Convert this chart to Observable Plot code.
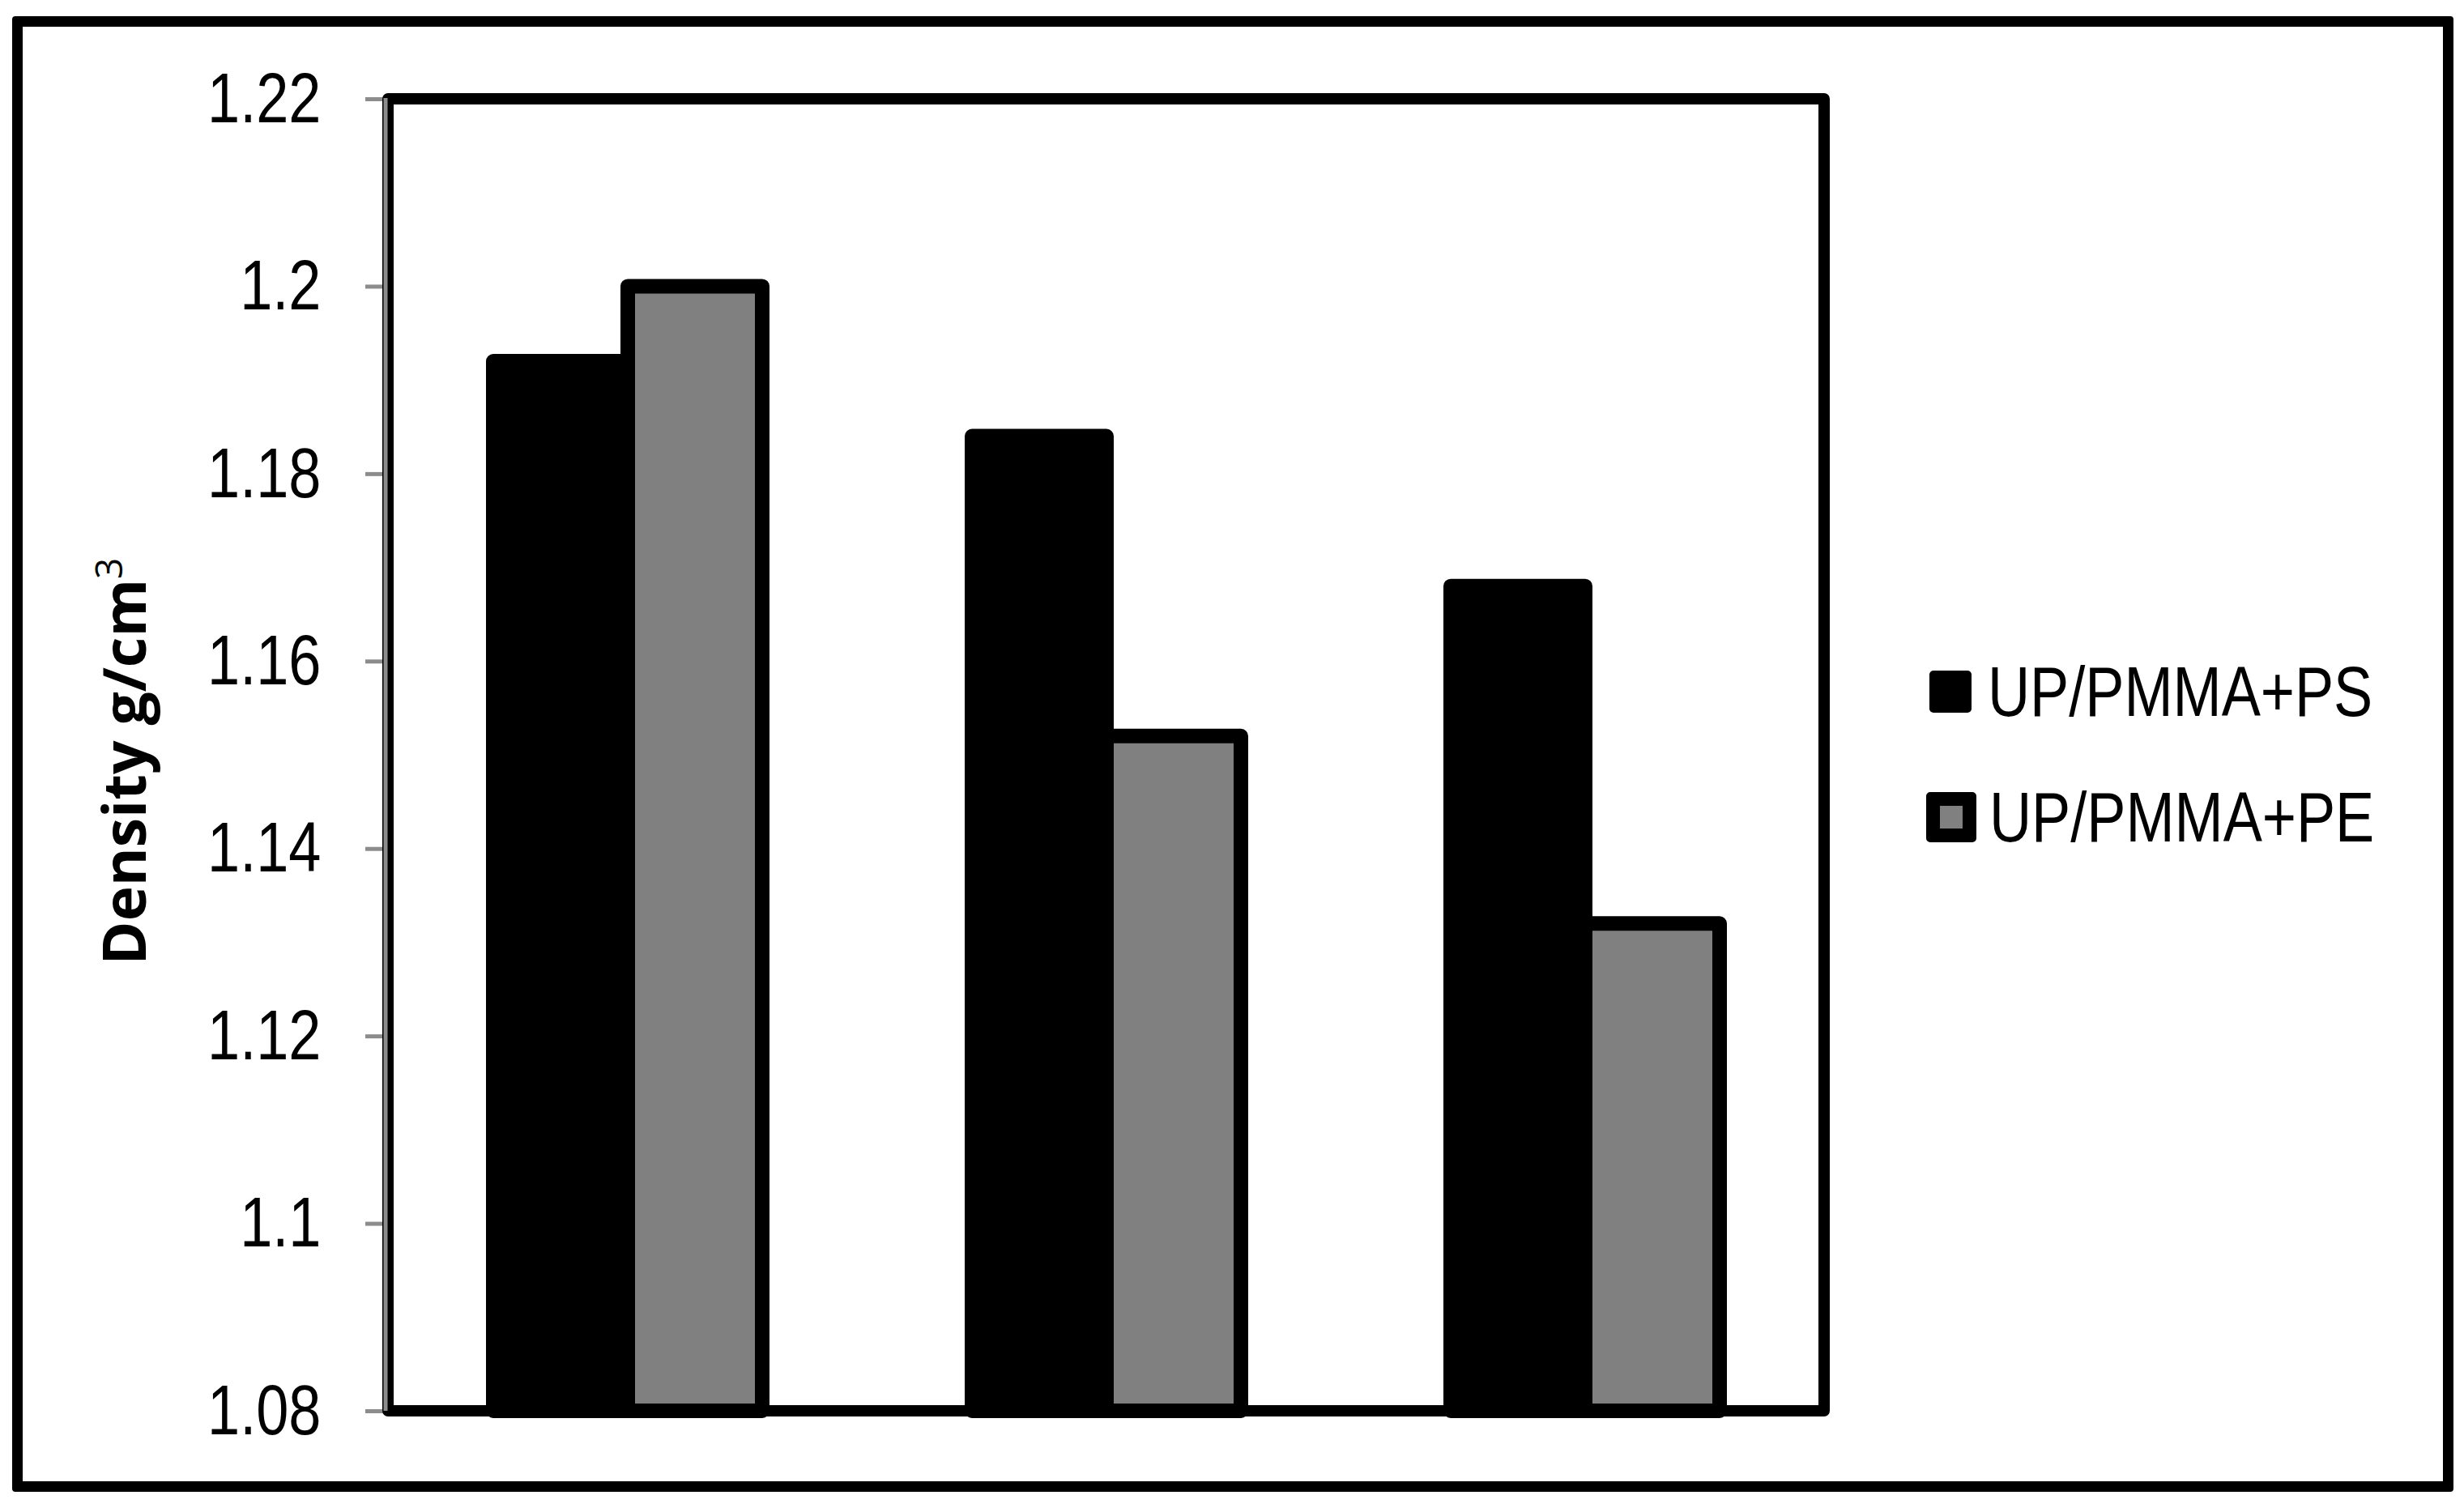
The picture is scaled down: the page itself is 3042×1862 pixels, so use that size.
<!DOCTYPE html>
<html>
<head>
<meta charset="utf-8">
<script src="https://cdn.jsdelivr.net/npm/d3@7"></script>
<script src="https://cdn.jsdelivr.net/npm/@observablehq/plot@0.6"></script>
<style>
  html, body { margin: 0; padding: 0; background: #fff; }
  #wrap { position: relative; width: 3042px; height: 1862px; overflow: hidden; }
  #border { position: absolute; left: 15px; top: 20px; width: 3014px; height: 1822px;
            box-sizing: border-box; border: 13px solid #000; border-radius: 4px; pointer-events: none; }
  #legend { position: absolute; left: 2376px; top: 790px; font-family: "Liberation Sans", Arial, sans-serif; font-size: 88px; color: #000; }
  .row { position: absolute; left: 0; height: 100px; display: flex; align-items: center; white-space: nowrap; }
  .sw { box-sizing: border-box; border-radius: 5px; flex: none; }
  .lt { display: inline-block; transform: scaleX(0.82); transform-origin: left center; }
</style>
</head>
<body>
<div id="wrap">
  <div id="chart"></div>
  <div id="border"></div>
  <div id="legend"></div>
</div>
<script>
// ---- data ----
const groups = ["Group 1", "Group 2", "Group 3"];
const series = ["UP/PMMA+PS", "UP/PMMA+PE"];
const psValues = [1.192, 1.184, 1.168];
const peValues = [1.200, 1.152, 1.132];
const yTicks = [1.08, 1.10, 1.12, 1.14, 1.16, 1.18, 1.20, 1.22];
const yDomain = [1.08, 1.22];
const colors = ["#000000", "#808080"];
const yLabel = "Density g/cm";

const data = groups.flatMap((g, i) => [
  {group: g, series: series[0], value: psValues[i]},
  {group: g, series: series[1], value: peValues[i]}
]);

const FONT = '"Liberation Sans", Arial, sans-serif';
const W = 3042, H = 1862;
const mL = 479, mR = 790, mT = 122, mB = 120;

const chart = Plot.plot({
  width: W,
  height: H,
  marginLeft: mL,
  marginRight: mR,
  marginTop: mT,
  marginBottom: mB,
  style: {fontFamily: FONT, background: "transparent"},
  fx: {domain: groups, padding: 0, axis: null, label: null},
  x: {domain: series, paddingInner: 0, paddingOuter: 0.78, axis: null, label: null},
  y: {domain: yDomain},
  color: {domain: series, range: colors},
  marks: [
    Plot.barY(data, {
      fx: "group",
      x: "series",
      y1: () => yDomain[0],
      y2: "value",
      fill: "series",
      stroke: "#000",
      strokeWidth: 18,
      strokeLinejoin: "round"
    }),
    Plot.axisY({
      ticks: yTicks,
      tickSize: 28,
      tickPadding: 55,
      stroke: "#8c8c8c",
      strokeWidth: 5,
      fill: "#000",
      fontSize: 88,
      fontFamily: FONT,
      tickFormat: d => String(+d.toFixed(2)),
      label: null
    })
  ]
});

document.getElementById("chart").appendChild(chart);

const svg = d3.select(chart);

// narrow the tick labels (Calibri-like proportions), scaling about their right edge
svg.selectAll('g[aria-label="y-axis tick label"] text').each(function() {
  const bb = this.getBBox();
  const ax = bb.x + bb.width;
  const tr = this.getAttribute("transform") || "";
  this.setAttribute("transform", `${tr} translate(${ax},0) scale(0.82,1) translate(${-ax},0)`);
});

// plot-area frame and axis line (decoration)
svg.append("rect")
  .attr("x", mL).attr("y", mT)
  .attr("width", W - mL - mR).attr("height", H - mT - mB)
  .attr("fill", "none").attr("stroke", "#000").attr("stroke-width", 14)
  .attr("stroke-linejoin", "round");
svg.append("line")
  .attr("x1", mL - 3).attr("x2", mL - 3)
  .attr("y1", mT - 1).attr("y2", H - mB)
  .attr("stroke", "#8c8c8c").attr("stroke-width", 5);

// y-axis title
const t = svg.append("text")
  .attr("transform", `translate(180, 940) rotate(-90)`)
  .attr("text-anchor", "middle")
  .attr("font-family", '"Open Sans", sans-serif')
  .attr("font-weight", "bold")
  .attr("font-size", 73)
  .attr("fill", "#000");
t.append("tspan").text(yLabel);
t.append("tspan").attr("font-weight", "normal").attr("font-size", 46).attr("dy", -29).text("3");

// legend
const legend = document.getElementById("legend");
const rowTops = [14, 169];
series.forEach((s, i) => {
  const row = document.createElement("div");
  row.className = "row";
  row.style.top = rowTops[i] + "px";
  const sw = document.createElement("div");
  sw.className = "sw";
  if (i === 0) {
    sw.style.width = "52px"; sw.style.height = "52px";
    sw.style.background = colors[i];
    sw.style.marginLeft = "6px"; sw.style.marginRight = "20px";
  } else {
    sw.style.width = "62px"; sw.style.height = "62px";
    sw.style.background = colors[i];
    sw.style.border = "17px solid #000";
    sw.style.marginLeft = "2px"; sw.style.marginRight = "16px";
  }
  const tx = document.createElement("span");
  tx.className = "lt";
  tx.textContent = s;
  row.appendChild(sw);
  row.appendChild(tx);
  legend.appendChild(row);
});
</script>
</body>
</html>
